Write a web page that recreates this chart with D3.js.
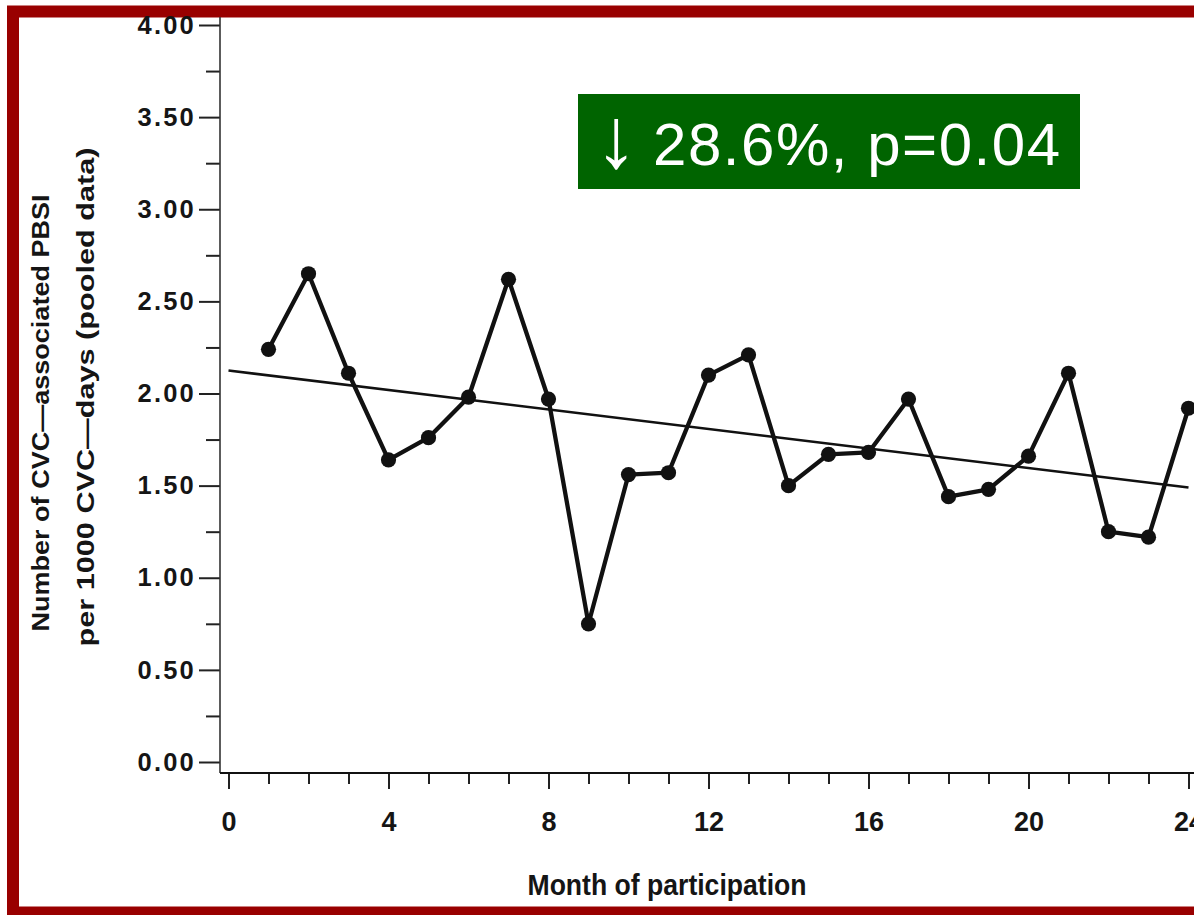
<!DOCTYPE html>
<html>
<head>
<meta charset="utf-8">
<script src="https://cdn.jsdelivr.net/npm/d3@7"></script>
<style>
  html, body { margin: 0; padding: 0; background: #ffffff; }
  svg { display: block; }
  text { font-family: "Liberation Sans", Arial, Helvetica, sans-serif; }
</style>
</head>
<body>
<svg id="chart" width="1194" height="915"></svg>
<script>
// ---- data ----
const months = [1,2,3,4,5,6,7,8,9,10,11,12,13,14,15,16,17,18,19,20,21,22,23,24];
const rates  = [2.24,2.65,2.11,1.64,1.76,1.98,2.62,1.97,0.75,1.56,1.57,2.10,2.21,1.50,1.67,1.68,1.97,1.44,1.48,1.66,2.11,1.25,1.22,1.92];
const trendMonths = [0, 24];
const trendValues = [2.125, 1.49];
const yMajorTicks = [0,0.5,1,1.5,2,2.5,3,3.5,4];
const yMinorTicks = [0.25,0.75,1.25,1.75,2.25,2.75,3.25,3.75];
const xMajorTicks = [0,4,8,12,16,20,24];
const xMinorTicks = [1,2,3,5,6,7,9,10,11,13,14,15,17,18,19,21,22,23];
const xTitle = "Month of participation";
const yTitle1 = "Number of CVC\u2014associated PBSI";
const yTitle2 = "per 1000 CVC\u2014days (pooled data)";
const badgeArrow = "\u2193";
const badgeText = "28.6%, p=0.04";

// ---- layout ----
const svg = d3.select("#chart");
const W = 1194, H = 915;
const x = d3.scaleLinear().domain([0, 24]).range([228.5, 1188.5]);
const y = d3.scaleLinear().domain([0, 4]).range([762, 25]);
const axisX = 220, axisY = 773;

// border
svg.append("rect").attr("x", 13).attr("y", 11.5).attr("width", 1200).attr("height", 901)
  .attr("fill", "none").attr("stroke", "#990000").attr("stroke-width", 12);

// y axis minor ticks
const gYmin = svg.append("g").attr("transform", `translate(${axisX},0)`)
  .call(d3.axisLeft(y).tickValues(yMinorTicks).tickSize(14).tickFormat(""));
gYmin.select(".domain").remove();
gYmin.selectAll("line").attr("stroke", "#222").attr("stroke-width", 2);

// y axis major ticks
const gY = svg.append("g").attr("transform", `translate(${axisX},0)`)
  .call(d3.axisLeft(y).tickValues(yMajorTicks).tickSize(21).tickPadding(3).tickFormat(d3.format(".2f")));
gY.select(".domain").remove();
gY.selectAll("line").attr("stroke", "#222").attr("stroke-width", 2);
gY.selectAll("text").attr("font-size", 25.5).attr("font-weight", "bold")
  .attr("letter-spacing", "2.2px").attr("fill", "#151515");

// x axis minor ticks
const gXmin = svg.append("g").attr("transform", `translate(0,${axisY})`)
  .call(d3.axisBottom(x).tickValues(xMinorTicks).tickSize(11).tickFormat(""));
gXmin.select(".domain").remove();
gXmin.selectAll("line").attr("stroke", "#222").attr("stroke-width", 2);

// x axis major ticks
const gX = svg.append("g").attr("transform", `translate(0,${axisY})`)
  .call(d3.axisBottom(x).tickValues(xMajorTicks).tickSize(16).tickPadding(23).tickFormat(d3.format("d")));
gX.select(".domain").remove();
gX.selectAll("line").attr("stroke", "#222").attr("stroke-width", 2);
gX.selectAll("text").attr("font-size", 27).attr("font-weight", "bold").attr("fill", "#151515");

// axis lines
svg.append("line").attr("x1", axisX).attr("x2", axisX).attr("y1", 17).attr("y2", axisY)
  .attr("stroke", "#333").attr("stroke-width", 1.6);
svg.append("line").attr("x1", axisX).attr("x2", W).attr("y1", axisY).attr("y2", axisY)
  .attr("stroke", "#111").attr("stroke-width", 2.2);

// trend line
const trend = trendMonths.map((m, i) => [m, trendValues[i]]);
svg.append("path").datum(trend)
  .attr("d", d3.line().x(d => x(d[0])).y(d => y(d[1])))
  .attr("fill", "none").attr("stroke", "#111").attr("stroke-width", 2.6);

// data line
const pts = months.map((m, i) => [m, rates[i]]);
svg.append("path").datum(pts)
  .attr("d", d3.line().x(d => x(d[0])).y(d => y(d[1])))
  .attr("fill", "none").attr("stroke", "#111").attr("stroke-width", 4.3).attr("stroke-linejoin", "round");
svg.append("g").selectAll("circle").data(pts).join("circle")
  .attr("cx", d => x(d[0])).attr("cy", d => y(d[1])).attr("r", 7.6).attr("fill", "#111");

// axis titles
svg.append("text").attr("x", 667).attr("y", 895).attr("text-anchor", "middle")
  .attr("font-size", 30).attr("font-weight", "bold").attr("fill", "#151515")
  .attr("textLength", 279).attr("lengthAdjust", "spacingAndGlyphs").text(xTitle);
svg.append("text").attr("transform", "translate(49,413) rotate(-90)").attr("text-anchor", "middle")
  .attr("font-size", 24).attr("font-weight", "bold").attr("fill", "#151515")
  .attr("textLength", 437).attr("lengthAdjust", "spacingAndGlyphs").text(yTitle1);
svg.append("text").attr("transform", "translate(94,397) rotate(-90)").attr("text-anchor", "middle")
  .attr("font-size", 24).attr("font-weight", "bold").attr("fill", "#151515")
  .attr("textLength", 499).attr("lengthAdjust", "spacingAndGlyphs").text(yTitle2);

// badge
svg.append("rect").attr("x", 578).attr("y", 94).attr("width", 502).attr("height", 95).attr("fill", "#006400");
svg.append("text").attr("x", 616).attr("y", 167).attr("text-anchor", "middle")
  .attr("font-size", 86).attr("fill", "#ffffff")
  .text(badgeArrow);
svg.append("text").attr("x", 653).attr("y", 165).attr("text-anchor", "start")
  .attr("font-size", 60).attr("fill", "#ffffff")
  .attr("textLength", 407).attr("lengthAdjust", "spacing").text(badgeText);
</script>
</body>
</html>
